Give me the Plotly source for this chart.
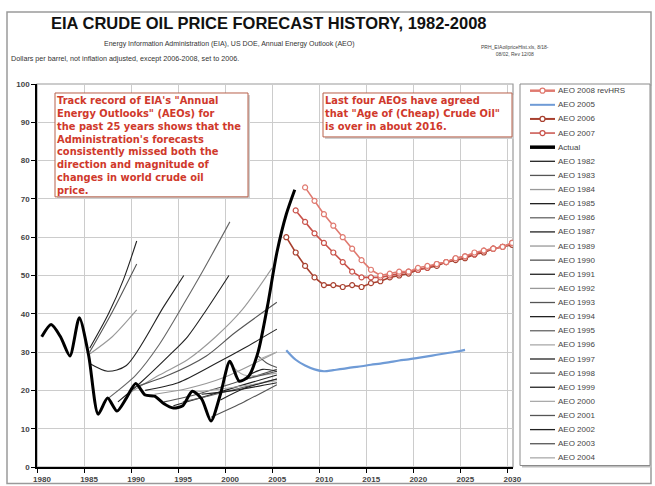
import plotly.graph_objects as go

# ---------------- data ----------------
actual_x = [1980.5, 1981.5, 1982.5, 1983.5, 1984.5, 1985.5, 1986.5, 1987.5, 1988.5, 1989.5,
            1990.5, 1991.5, 1992.5, 1993.5, 1994.5, 1995.5, 1996.5, 1997.5, 1998.5, 1999.5,
            2000.5, 2001.5, 2002.5, 2003.5, 2004.5, 2005.5, 2006.5, 2007.4]
actual_y = [34, 37.2, 34, 29, 39, 29, 13.8, 18, 14.6, 18,
            21.8, 18.8, 18.5, 16.5, 15.4, 16, 19.8, 17.8, 12, 19,
            27.6, 22.4, 23.7, 30, 42, 56, 66, 72.4]

forecast_names = ["AEO 1982", "AEO 1983", "AEO 1984", "AEO 1985", "AEO 1986", "AEO 1987",
                  "AEO 1989", "AEO 1990", "AEO 1991", "AEO 1992", "AEO 1993", "AEO 1994",
                  "AEO 1995", "AEO 1996", "AEO 1997", "AEO 1998", "AEO 1999", "AEO 2000",
                  "AEO 2001", "AEO 2002", "AEO 2003", "AEO 2004"]
forecast_x = [
    [1985.6, 1987.6, 1989.2, 1990.6],
    [1985.6, 1987.9, 1990.6],
    [1985.6, 1988.0, 1990.6],
    [1985.6, 1987.5, 1989.5, 1993.5, 1995.6],
    [1987.6, 1990.5, 1993.0, 1995.7, 1997.7, 2000.5],
    [1988.6, 1991.0, 1994.0, 1996.0, 1998.0, 2000.4],
    [1989.6, 1993.0, 1996.0, 1999.0, 2001.8, 2005.0],
    [1990.6, 1994.0, 1998.0, 2001.0, 2005.5],
    [1991.5, 1995.0, 1999.0, 2002.0, 2005.5],
    [1992.5, 1996.0, 2000.0, 2005.5],
    [1993.5, 1997.0, 2001.0, 2005.5],
    [1994.5, 1998.0, 2002.0, 2005.5],
    [1995.5, 1999.0, 2005.5],
    [1996.5, 2000.0, 2005.5],
    [1997.5, 2001.0, 2005.5],
    [1998.5, 2002.0, 2005.5],
    [1999.5, 2002.0, 2005.5],
    [2000.5, 2002.0, 2005.5],
    [2001.5, 2005.5],
    [2002.5, 2004.0, 2005.5],
    [2003.5, 2004.5, 2005.5],
    [2003.5, 2005.5],
]
forecast_y = [
    [31, 40, 49, 59],
    [30, 40, 53],
    [29.5, 34, 41],
    [27, 25, 26.5, 42, 50],
    [18, 24, 32, 43, 51.5, 64],
    [17, 22, 29, 34, 41, 50],
    [19, 24, 28, 34, 41, 52],
    [21, 24, 29, 35, 43],
    [20, 22, 27, 31, 36],
    [19, 20.5, 23.5, 30],
    [17, 19, 22, 25.5],
    [16, 18.5, 21.5, 24],
    [17, 19, 23],
    [19.5, 20.5, 22.5],
    [19, 20, 22],
    [13, 17, 21.5],
    [17.5, 20.5, 23],
    [27, 24, 24.5],
    [22.5, 25],
    [24, 25.5, 25],
    [29, 27, 26],
    [28, 30],
]
forecast_colors = ["#222222", "#555555", "#999999", "#222222", "#666666", "#222222",
                   "#999999", "#555555", "#222222", "#999999", "#555555", "#222222",
                   "#666666", "#aaaaaa", "#222222", "#555555", "#222222", "#aaaaaa",
                   "#555555", "#222222", "#555555", "#aaaaaa"]

aeo2005_years = [2006, 2007, 2008, 2009, 2010, 2011, 2012, 2013, 2014, 2015,
                 2016, 2017, 2018, 2019, 2020, 2021, 2022, 2023, 2024, 2025]
aeo2005_price = [30.5, 28, 26.5, 25.5, 25, 25.3, 25.6, 26, 26.3, 26.7,
                 27, 27.4, 27.8, 28.1, 28.5, 28.9, 29.3, 29.7, 30.1, 30.6]

aeo2006_years = [2006, 2007, 2008, 2009, 2010, 2011, 2012, 2013, 2014, 2015, 2016, 2017, 2018,
                 2019, 2020, 2021, 2022, 2023, 2024, 2025, 2026, 2027, 2028, 2029, 2030]
aeo2006_price = [60, 56, 52.5, 49.5, 47.5, 47.5, 47, 47.5, 47, 48, 48.5, 49.5, 50,
                 50.5, 51.5, 52, 52.5, 53.5, 54, 54.5, 55.5, 56, 57, 57.5, 58]

aeo2007_years = [2007, 2008, 2009, 2010, 2011, 2012, 2013, 2014, 2015, 2016, 2017, 2018,
                 2019, 2020, 2021, 2022, 2023, 2024, 2025, 2026, 2027, 2028, 2029, 2030]
aeo2007_price = [67, 64, 61, 58.5, 56, 53.5, 51, 49.5, 49.5, 49.5, 50, 50.5,
                 51, 51.5, 52, 53, 53.5, 54.5, 55, 55.5, 56.5, 57, 57.5, 58.5]

aeo2008_years = [2008, 2009, 2010, 2011, 2012, 2013, 2014, 2015, 2016, 2017, 2018,
                 2019, 2020, 2021, 2022, 2023, 2024, 2025, 2026, 2027, 2028, 2029, 2030]
aeo2008_price = [73, 69.5, 66, 63, 60, 57, 54, 51.5, 50, 50.5, 51,
                 51, 52, 52.5, 53, 53.5, 54.5, 55, 56, 56.5, 57, 57.5, 58.5]

x_ticks = [1980, 1985, 1990, 1995, 2000, 2005, 2010, 2015, 2020, 2025, 2030]
y_ticks = [0, 10, 20, 30, 40, 50, 60, 70, 80, 90, 100]

# ---------------- layout geometry ----------------
W, H = 655, 486
ML, MR, MT, MB = 37, 142, 84, 18.5
PW = W - ML - MR
PH = H - MT - MB


def px(x):
    return (x - ML) / PW


def py(y):
    return (H - MB - y) / PH


def mid(years):
    return [v + 0.5 for v in years]


fig = go.Figure()

for name, xs, ys, c in zip(forecast_names, forecast_x, forecast_y, forecast_colors):
    fig.add_trace(go.Scatter(x=xs, y=ys, mode="lines", name=name,
                             line=dict(color=c, width=1.1, shape="spline", smoothing=0.8),
                             showlegend=False))

fig.add_trace(go.Scatter(x=actual_x, y=actual_y, mode="lines", name="Actual",
                         line=dict(color="#000000", width=3, shape="spline", smoothing=0.7),
                         showlegend=False))

fig.add_trace(go.Scatter(x=mid(aeo2005_years), y=aeo2005_price, mode="lines", name="AEO 2005",
                         line=dict(color="#6f9bd6", width=2.2, shape="spline"), showlegend=False))
red_specs = [
    ("AEO 2006", aeo2006_years, aeo2006_price, "#a8402f"),
    ("AEO 2007", aeo2007_years, aeo2007_price, "#c9524a"),
    ("AEO 2008 revHRS", aeo2008_years, aeo2008_price, "#e07a70"),
]
for name, yrs, vals, c in red_specs:
    fig.add_trace(go.Scatter(x=mid(yrs), y=vals, mode="lines+markers", name=name,
                             line=dict(color=c, width=1.6),
                             marker=dict(symbol="circle", size=5, color="white",
                                         line=dict(color=c, width=1.2)),
                             showlegend=False))

shapes = []
annotations = []

shapes.append(dict(type="rect", xref="paper", yref="paper", x0=px(7), x1=px(651), y0=py(484), y1=py(12),
                   line=dict(color="#9a9a9a", width=1.5), layer="below"))
shapes.append(dict(type="rect", xref="paper", yref="paper", x0=0, x1=1, y0=0, y1=1,
                   line=dict(color="#9a9a9a", width=1.2), layer="below"))

annotations.append(dict(text="<b>EIA CRUDE OIL PRICE FORECAST HISTORY, 1982-2008</b>",
                        xref="paper", yref="paper", x=px(269), y=py(23), showarrow=False,
                        xanchor="center", yanchor="middle",
                        font=dict(family="Liberation Sans, Arial", size=16.5, color="#111111")))
annotations.append(dict(text="Energy Information Administration (EIA), US DOE, Annual Energy Outlook (AEO)",
                        xref="paper", yref="paper", x=px(229), y=py(44), showarrow=False,
                        xanchor="center", yanchor="middle",
                        font=dict(family="Liberation Sans, Arial", size=7, color="#333333")))
annotations.append(dict(text="Dollars per barrel, not inflation adjusted, except 2006-2008, set to 2006.",
                        xref="paper", yref="paper", x=px(9), y=py(58), showarrow=False,
                        xanchor="left", yanchor="middle",
                        font=dict(family="Liberation Sans, Arial", size=7.2, color="#333333")))
annotations.append(dict(text="PRH_EIAoilpriceHist.xls, 8/18-<br>08/02, Rev 12/08",
                        xref="paper", yref="paper", x=px(515), y=py(50), showarrow=False,
                        xanchor="center", yanchor="middle", align="center",
                        font=dict(family="Liberation Sans, Arial", size=5, color="#444444")))

RED = "#d0392b"
box1_lines = ["Track record of EIA's \"Annual", "Energy Outlooks\" (AEOs) for",
              "the past 25 years shows that the", "Administration's forecasts",
              "consistently missed both the", "direction and magnitude of",
              "changes in world crude oil", "price."]
box2_lines = ["Last four AEOs have agreed", "that \"Age of (Cheap) Crude Oil\"",
              "is over in about 2016."]


def text_box(x0, y0, x1, y1, lines, size):
    shapes.append(dict(type="rect", xref="paper", yref="paper", x0=px(x0 + 2), x1=px(x1 + 2),
                       y0=py(y1 + 2), y1=py(y0 + 2), line=dict(width=0), fillcolor="#cfcfcf"))
    shapes.append(dict(type="rect", xref="paper", yref="paper", x0=px(x0), x1=px(x1),
                       y0=py(y1), y1=py(y0), line=dict(color="#b8604a", width=1), fillcolor="white"))
    annotations.append(dict(text="<b>" + "<br>".join(lines) + "</b>", xref="paper", yref="paper",
                            x=px(x0 + 1), y=py(y0 + 1), showarrow=False, align="left",
                            xanchor="left", yanchor="top", borderpad=0,
                            font=dict(family="DejaVu Sans", size=size, color=RED)))


text_box(55, 93, 248, 197, box1_lines, 9.9)
text_box(323, 93, 512, 137, box2_lines, 9.9)

shapes.append(dict(type="rect", xref="paper", yref="paper", x0=px(522), x1=px(652), y0=py(468), y1=py(86),
                   line=dict(width=0), fillcolor="#bdbdbd"))
shapes.append(dict(type="rect", xref="paper", yref="paper", x0=px(520), x1=px(650), y0=py(466), y1=py(84),
                   line=dict(color="#8a8a8a", width=1), fillcolor="white"))

legend_entries = [("AEO 2008 revHRS", "#e07a70", 2.5, "circle"),
                  ("AEO 2005", "#6f9bd6", 2, None),
                  ("AEO 2006", "#a8402f", 2, "circle"),
                  ("AEO 2007", "#c9524a", 1.5, "circle"),
                  ("Actual", "#000000", 3.5, None)]
legend_entries += [(n, c, 1.3, None) for n, c in zip(forecast_names, forecast_colors)]

for i, (name, c, w, mk) in enumerate(legend_entries):
    yy = 90.7 + 14.14 * i
    shapes.append(dict(type="line", xref="paper", yref="paper", x0=px(530), x1=px(555),
                       y0=py(yy), y1=py(yy), line=dict(color=c, width=w)))
    if mk:
        shapes.append(dict(type="circle", xref="paper", yref="paper", x0=px(540), x1=px(545),
                           y0=py(yy + 2.5), y1=py(yy - 2.5), line=dict(color=c, width=1.2),
                           fillcolor="white"))
    annotations.append(dict(text=name, xref="paper", yref="paper", x=px(556), y=py(yy),
                            showarrow=False, xanchor="left", yanchor="middle",
                            font=dict(family="Liberation Sans, Arial", size=8, color="#444444")))

fig.update_layout(
    width=W, height=H,
    margin=dict(l=ML, r=MR, t=MT, b=MB, autoexpand=False),
    paper_bgcolor="white", plot_bgcolor="white",
    showlegend=False,
    shapes=shapes, annotations=annotations,
    xaxis=dict(range=[1980, 2030.6], tickvals=x_ticks, ticktext=[str(v) for v in x_ticks],
               showgrid=True, gridcolor="#cccccc", gridwidth=1,
               showline=True, linecolor="#000000", linewidth=1.5,
               ticks="outside", ticklen=4, tickcolor="#000000", zeroline=False,
               ticklabelshift=5,
               tickfont=dict(family="Liberation Sans, Arial", size=8, color="#444444", weight="bold")),
    yaxis=dict(range=[0, 100], tickvals=y_ticks, ticktext=[str(v) for v in y_ticks],
               showgrid=True, gridcolor="#cccccc", gridwidth=1,
               showline=True, linecolor="#000000", linewidth=1.5,
               ticks="outside", ticklen=4, tickcolor="#000000", zeroline=False,
               tickfont=dict(family="Liberation Sans, Arial", size=8, color="#444444", weight="bold")),
)

fig.write_html("out.html", config={"displayModeBar": False},
               post_script="document.body.style.margin='0';")
